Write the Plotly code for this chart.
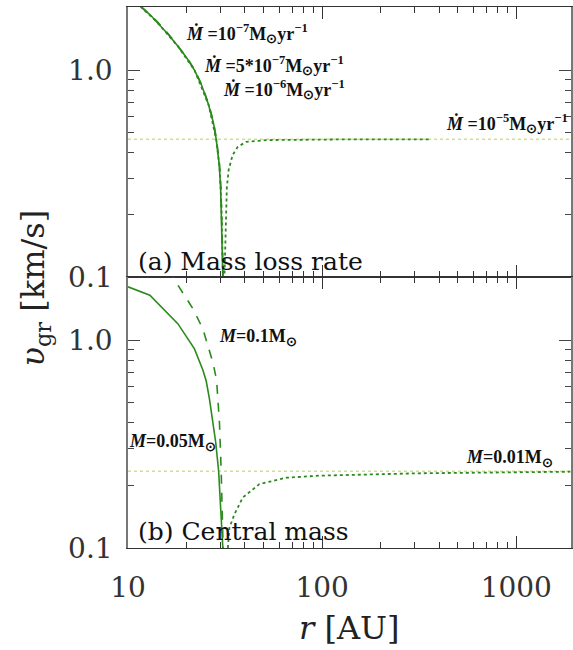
import plotly.graph_objects as go

# ---------------- data ----------------
# Panel (a): mass loss rate
ra_solid = [10.0, 11.8, 13.0, 14.0, 16.0, 18.0, 20.0, 22.0, 24.0, 26.0, 27.5, 28.5, 29.5, 30.0, 30.3, 30.5, 30.7, 30.8]
va_solid = [2.35, 2.00, 1.85, 1.72, 1.50, 1.31, 1.15, 1.00, 0.84, 0.68, 0.56, 0.46, 0.35, 0.27, 0.20, 0.14, 0.11, 0.10]
ra_dash = [10.0, 11.9, 13.1, 14.1, 16.1, 18.1, 20.1, 22.1, 24.1, 26.1, 27.6, 28.6, 29.6, 30.1, 30.4, 30.6, 30.8, 30.9]
va_dash = [2.33, 2.00, 1.85, 1.72, 1.50, 1.31, 1.15, 1.00, 0.84, 0.68, 0.56, 0.46, 0.35, 0.27, 0.20, 0.14, 0.11, 0.10]
ra_dot = [10.0, 11.8, 14.0, 18.0, 22.0, 26.0, 28.5, 29.6, 30.3, 30.7, 31.0, 31.2, 31.4, 32.0, 32.3, 33.0, 34.6, 36.8, 40.6, 51.5, 80.0, 150.0, 250.0, 365.0]
va_dot = [2.35, 2.00, 1.72, 1.31, 1.00, 0.68, 0.46, 0.34, 0.22, 0.13, 0.06, 0.06, 0.10, 0.188, 0.272, 0.329, 0.389, 0.426, 0.450, 0.459, 0.462, 0.463, 0.463, 0.463]
ra_ref = [10.0, 1900.0]
va_ref = [0.463, 0.463]

# Panel (b): central mass
rb_005 = [10.0, 12.96, 18.1, 22.0, 24.3, 25.3, 26.3, 27.4, 28.3, 29.3, 29.9, 30.8]
vb_005 = [1.81, 1.65, 1.20, 0.91, 0.72, 0.635, 0.52, 0.398, 0.323, 0.235, 0.175, 0.10]
rb_01 = [16.5, 17.4, 21.6, 24.3, 27.4, 28.6, 29.6, 30.2, 30.9]
vb_01 = [2.20, 1.95, 1.42, 1.136, 0.78, 0.644, 0.398, 0.235, 0.10]
rb_001 = [32.7, 33.3, 35.3, 39.0, 47.5, 65.3, 96.6, 315.0, 1900.0]
vb_001 = [0.10, 0.125, 0.145, 0.175, 0.203, 0.218, 0.223, 0.229, 0.233]
rb_ref = [10.0, 1900.0]
vb_ref = [0.234, 0.234]

x_major = [10, 100, 1000]
x_major_text = ["10", "100", "1000"]
x_minor = [20, 30, 40, 50, 60, 70, 80, 90, 200, 300, 400, 500, 600, 700, 800, 900]
y_major = [0.1, 1.0]
y_major_text = ["0.1", "1.0"]
y_minor = [0.2, 0.3, 0.4, 0.5, 0.6, 0.7, 0.8, 0.9, 2.0]

GREEN = "#2b8a1c"
LIGHT = "#d2dd8e"

fig = go.Figure()

def add(x, y, dash, color, xa, ya, width=1.6):
    fig.add_trace(go.Scatter(x=x, y=y, mode="lines", xaxis=xa, yaxis=ya,
                             line=dict(color=color, width=width, dash=dash),
                             showlegend=False, hoverinfo="skip"))

# panel (a) -> top (x, y)
add(ra_ref, va_ref, "dot", LIGHT, "x", "y", 1.5)
add(ra_dot, va_dot, "dot", GREEN, "x", "y", 1.8)
add(ra_dash, va_dash, "dash", GREEN, "x", "y", 1.6)
add(ra_solid, va_solid, "solid", GREEN, "x", "y", 1.6)
# panel (b) -> bottom (x2, y2)
add(rb_ref, vb_ref, "dot", LIGHT, "x2", "y2", 1.5)
add(rb_001, vb_001, "dot", GREEN, "x2", "y2", 1.8)
add(rb_01, vb_01, "dash", GREEN, "x2", "y2", 1.6)
add(rb_005, vb_005, "solid", GREEN, "x2", "y2", 1.6)

XR = [1.0, 3.282]
YR = [-1.0, 0.305]
TICKFONT = dict(family="DejaVu Serif", size=28, color="#333")

xcommon = dict(type="log", range=XR, ticks="inside", ticklen=12, tickwidth=1,
               tickcolor="#333", linecolor="#333", linewidth=1.2, mirror="ticks",
               showgrid=False, zeroline=False, tickvals=x_major,
               minor=dict(tickvals=x_minor, ticks="inside", ticklen=6, tickcolor="#333"))
ycommon = dict(type="log", range=YR, ticks="inside", ticklen=12, tickwidth=1,
               tickcolor="#444", linecolor="#777", linewidth=1.5, mirror="ticks",
               showgrid=False, zeroline=False, tickvals=y_major, ticktext=y_major_text,
               tickfont=TICKFONT, ticklabelstandoff=8,
               minor=dict(tickvals=y_minor, ticks="inside", ticklen=6, tickcolor="#444"))

L, T, W, H = 128, 7, 445, 541
split = 271 / 541
fig.update_layout(
    width=573, height=650,
    margin=dict(l=L, r=0, t=T, b=650 - T - H),
    paper_bgcolor="white", plot_bgcolor="white",
    xaxis=dict(xcommon, anchor="y", showticklabels=False),
    yaxis=dict(ycommon, domain=[split, 1.0], anchor="x"),
    xaxis2=dict(xcommon, anchor="y2", showticklabels=True, ticktext=x_major_text,
                tickfont=TICKFONT, ticklabelstandoff=14),
    yaxis2=dict(ycommon, domain=[0.0, split], anchor="x2"),
)

def px(x):
    return (x - L) / W

def py(y):
    return (T + H - y) / H

ANN = dict(family="Liberation Serif", size=18, color="#111")
def label(text, x, y, xanchor="left", font=ANN):
    fig.add_annotation(text=text, x=px(x), y=py(y), xref="paper", yref="paper",
                       xanchor=xanchor, yanchor="middle", showarrow=False, font=font)

label("<b><i>Ṁ</i> =10<sup>−7</sup>M<sub>⊙</sub>yr<sup>−1</sup></b>", 184, 33)
label("<b><i>Ṁ</i> =5*10<sup>−7</sup>M<sub>⊙</sub>yr<sup>−1</sup></b>", 202, 65)
label("<b><i>Ṁ</i> =10<sup>−6</sup>M<sub>⊙</sub>yr<sup>−1</sup></b>", 221, 89)
label("<b><i>Ṁ</i> =10<sup>−5</sup>M<sub>⊙</sub>yr<sup>−1</sup></b>", 445, 124)
label("<b><i>M</i>=0.1M<sub>⊙</sub></b>", 217, 337)
label("<b><i>M</i>=0.05M<sub>⊙</sub></b>", 127, 442)
label("<b><i>M</i>=0.01M<sub>⊙</sub></b>", 466, 458)

PANEL = dict(family="DejaVu Serif", size=25, color="#111")
label("(a) Mass loss rate", 136, 261, font=PANEL)
label("(b) Central mass", 136, 531, font=PANEL)

fig.add_annotation(text="<i>υ</i><sub>gr</sub> [km/s]", x=px(35), y=py(288),
                   xref="paper", yref="paper", textangle=-90, showarrow=False,
                   xanchor="center", yanchor="middle",
                   font=dict(family="DejaVu Serif", size=32, color="#222"))
fig.add_annotation(text="<i>r</i> [AU]", x=px(350), y=py(628),
                   xref="paper", yref="paper", showarrow=False,
                   xanchor="center", yanchor="middle",
                   font=dict(family="DejaVu Serif", size=32, color="#222"))

fig.write_html("out.html")
